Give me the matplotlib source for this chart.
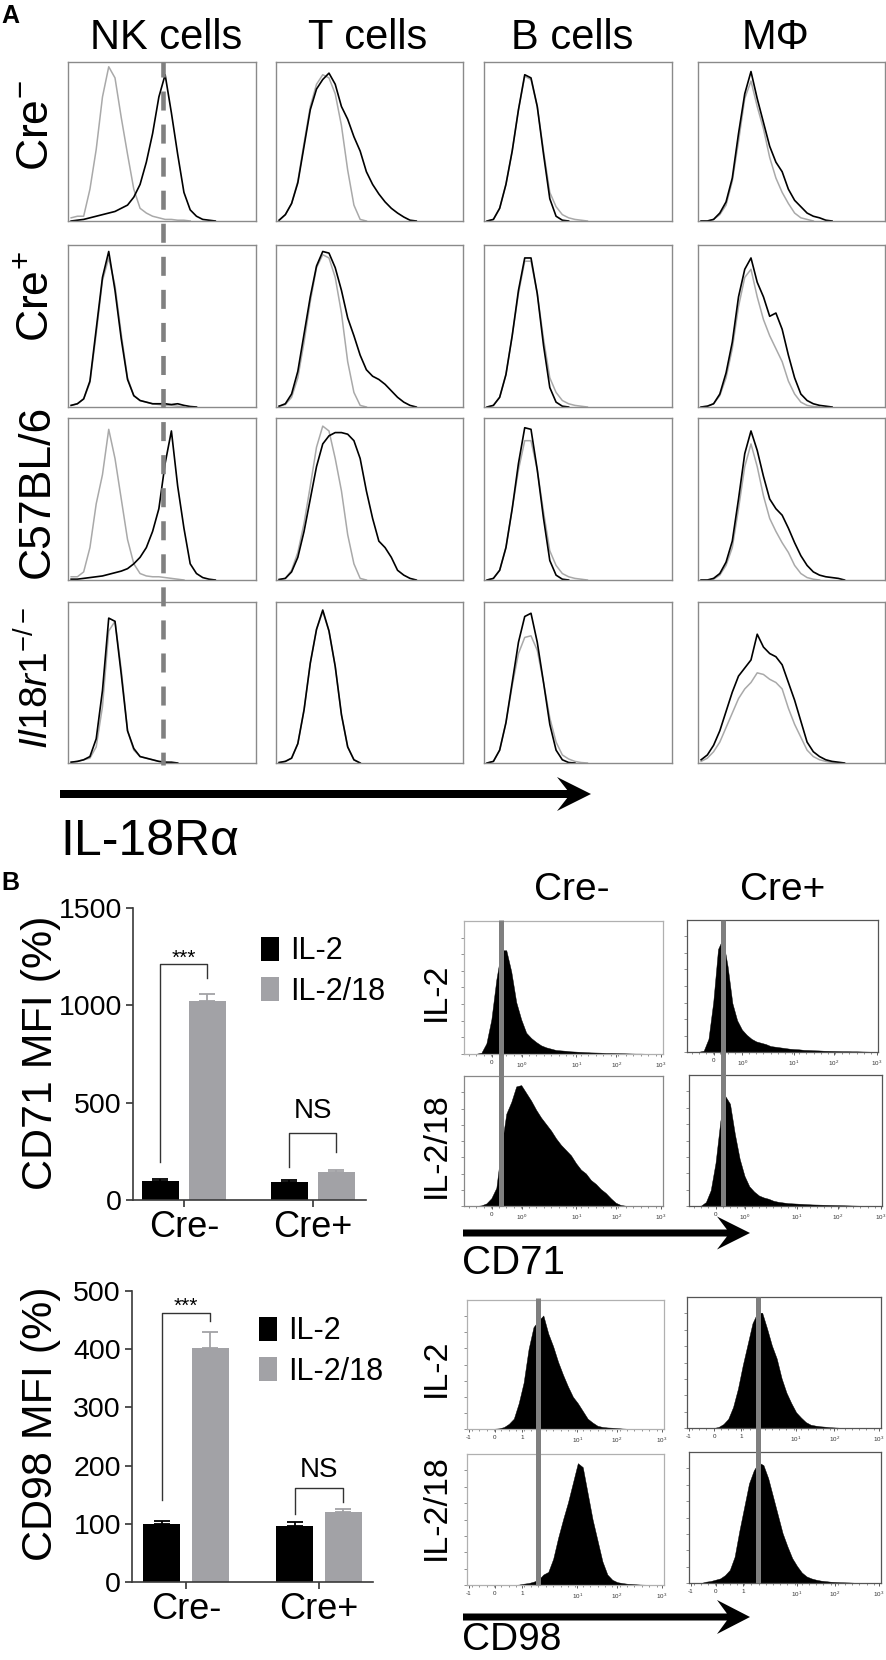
import numpy as np
import matplotlib
matplotlib.use('Agg')
import matplotlib.pyplot as plt
from matplotlib.patches import Polygon
from matplotlib import font_manager

plt.rcParams['font.family'] = ['Liberation Sans', 'DejaVu Sans']
plt.rcParams['mathtext.fontset'] = 'custom'
plt.rcParams['mathtext.rm'] = 'Liberation Sans'
plt.rcParams['mathtext.it'] = 'Liberation Sans:italic'
plt.rcParams['mathtext.bf'] = 'Liberation Sans:bold'
plt.rcParams['lines.scale_dashes'] = False

# ---------------- Panel A data (histogram heights, % of max, per channel bin) ----------------
cell_types = ['NK cells', 'T cells', 'B cells', 'M\u03a6']
genotypes = ['Cre$^{-}$', 'Cre$^{+}$', 'C57BL/6', r'$\mathit{Il18r1}^{\mathit{-/-}}$']

nk_b1 = [0, 0.5, 1, 2, 3, 4, 5, 6, 8, 10, 15, 23, 37, 55, 78, 92, 68, 42, 18, 7, 3, 1, 0.5, 0]
nk_g1 = [2, 3, 3, 20, 45, 78, 97, 90, 65, 42, 20, 8, 5, 3, 2, 1, 1, 0.5, 0.5, 0]
t_b1 = [0.5, 4, 11, 24, 47, 70, 83, 89, 93, 86, 72, 64, 53, 44, 31, 23, 17, 12, 8, 5, 2.5, 0.5, 0]
t_g1 = [0.5, 4, 11, 25, 49, 72, 86, 92, 90, 80, 60, 32, 10, 1, 0]
b_b1 = [0, 1, 8, 23, 44, 70, 92, 90, 72, 42, 14, 3, 0.5, 0]
b_g1 = [0, 1, 8, 23, 44, 70, 91, 89, 72, 44, 18, 9, 4, 2, 1, 0.5, 0]
m_b1 = [0, 0, 1, 5, 12, 27, 55, 80, 94, 77, 62, 47, 37, 31, 20, 13, 9, 5, 3, 2, 0.5, 0]
m_g1 = [0, 0, 1, 4, 10, 25, 50, 77, 88, 72, 58, 40, 27, 18, 11, 5, 2, 1, 0]

nk_b2 = [1, 2, 5, 16, 48, 80, 96, 72, 42, 17, 7, 4, 3, 2, 2, 2, 1.5, 2, 1, 0.3, 0]
nk_g2 = [1, 2, 5, 15, 45, 78, 92, 75, 45, 18, 7, 4, 3, 2, 1.5, 1, 1, 0.5, 0]
t_b2 = [0.5, 2, 8, 22, 45, 68, 87, 96, 95, 86, 72, 55, 44, 32, 23, 19, 17, 14, 10, 6, 3, 1, 0]
t_g2 = [0.5, 1.5, 6, 18, 40, 65, 86, 94, 92, 80, 58, 28, 9, 1, 0]
b_b2 = [0, 1, 6, 20, 44, 72, 92, 92, 70, 38, 12, 3, 0.5, 0]
b_g2 = [0, 1, 6, 20, 44, 70, 90, 90, 70, 42, 18, 9, 4, 2, 1, 0.5, 0]
m_b2 = [0, 0.5, 2, 8, 21, 40, 68, 85, 92, 77, 68, 56, 58, 48, 32, 18, 8, 4, 2, 1, 0.5, 0]
m_g2 = [0, 0.5, 2, 7, 18, 36, 62, 80, 85, 68, 54, 44, 36, 28, 16, 8, 3, 1, 0.3, 0]

nk_b3 = [0.5, 0.5, 1, 1.5, 2, 2.5, 3.5, 4.5, 5.5, 7, 10, 14, 20, 30, 44, 72, 92, 58, 32, 10, 4, 1.5, 0.5, 0]
nk_g3 = [2, 2, 5, 20, 47, 65, 93, 75, 50, 25, 10, 4, 2.5, 2, 2, 1.5, 1, 0.5, 0]
t_b3 = [0.3, 1, 5, 14, 30, 50, 70, 84, 89, 91, 91, 90, 86, 75, 55, 38, 24, 20, 14, 6, 3, 1, 0]
t_g3 = [0.3, 1, 6, 17, 35, 58, 82, 95, 92, 75, 55, 28, 10, 1, 0]
b_b3 = [0, 1, 6, 20, 44, 72, 94, 93, 68, 38, 12, 3, 0.5, 0]
b_g3 = [0, 1, 6, 20, 44, 68, 86, 86, 68, 42, 18, 9, 4, 2, 1, 0.5, 0]
m_b3 = [0, 0, 1, 4, 11, 24, 50, 78, 92, 80, 64, 50, 44, 40, 32, 23, 15, 9, 5, 3, 2, 1.5, 1, 0]
m_g3 = [0, 0, 0.5, 3, 9, 20, 44, 70, 84, 70, 52, 38, 30, 23, 17, 9, 4, 1.5, 0.5, 0]

nk_b4 = [0.5, 1, 2, 4, 15, 45, 90, 88, 55, 20, 9, 4, 3, 2, 1, 0.5, 0.5, 0]
nk_g4 = [0.5, 1, 2, 3, 10, 35, 82, 88, 58, 20, 8, 4, 3, 2, 1, 0.5, 0]
t_b4 = [0.3, 1, 3, 12, 33, 62, 83, 95, 82, 60, 30, 10, 2, 0]
t_g4 = [0.3, 1, 3, 12, 33, 62, 83, 94, 82, 60, 30, 10, 2, 0]
b_b4 = [0, 1, 8, 25, 50, 75, 91, 93, 75, 50, 24, 8, 2, 0.3, 0]
b_g4 = [0, 1, 8, 25, 48, 68, 78, 79, 70, 50, 28, 13, 5, 2.5, 1, 0.3, 0]
m_b4 = [2, 5, 11, 20, 32, 44, 54, 59, 64, 80, 72, 68, 66, 61, 50, 39, 26, 13, 7, 4, 2, 1, 0.5, 0]
m_g4 = [1, 3, 7, 13, 22, 31, 40, 46, 50, 56, 55, 52, 50, 46, 34, 24, 16, 8, 4, 2, 1, 0.3, 0]

# ---------------- Panel B bar data ----------------
groups = ['Cre-', 'Cre+']
treatments = ['IL-2', 'IL-2/18']
cd71_il2 = [100, 94]
cd71_il2_err = [8, 8]
cd71_il218 = [1023, 144]
cd71_il218_err = [36, 10]
cd98_il2 = [100, 97]
cd98_il2_err = [4, 6]
cd98_il218 = [402, 120]
cd98_il218_err = [28, 6]
cd71_sig = ['***', 'NS']
cd98_sig = ['***', 'NS']

# ---------------- Panel B flow histograms (% of max, 40 bins) ----------------
cd71_creneg_il2 = [0, 0, 0.2, 1, 8, 26, 56, 78, 78, 62, 39, 26, 16, 12, 9, 6.5, 5, 4, 3, 2.7, 2.4, 2, 1.8, 1.6, 1.4, 1.2, 1.1, 1, 0.8, 0.8, 0.7, 0.6, 0.5, 0.4, 0.3, 0.3, 0.2, 0.1, 0, 0]
cd71_crepos_il2 = [0, 0, 0.2, 1, 10, 38, 78, 86, 65, 37, 24, 17, 13, 10, 8, 7, 6, 4.5, 4, 3.5, 3, 2.5, 2.2, 2, 1.6, 1.5, 1.3, 1.2, 1, 0.9, 0.8, 0.7, 0.6, 0.6, 0.5, 0.5, 0.4, 0.3, 0.2, 0.1]
cd71_creneg_il218 = [0, 0, 0, 0.5, 2, 6, 14, 45, 71, 80, 92, 93, 87, 81, 74, 68, 63, 58, 52, 47, 43, 39, 33, 28, 25, 20, 17, 13, 10, 6, 2.5, 0.8, 0.2, 0, 0, 0, 0, 0, 0, 0]
cd71_crepos_il218 = [0, 0, 0.3, 3, 12, 33, 65, 84, 78, 55, 36, 23, 15, 11, 8, 6.5, 5.5, 4, 3.2, 2.7, 2.2, 2, 1.8, 1.6, 1.4, 1.2, 1.1, 1, 0.9, 0.8, 0.7, 0.6, 0.5, 0.4, 0.3, 0.2, 0.1, 0, 0, 0]
cd98_creneg_il2 = [0, 0, 0, 0, 0, 0.2, 0.5, 1.5, 4, 8, 20, 36, 62, 79, 84, 88, 74, 64, 52, 42, 33, 25, 20, 14, 8, 5, 2.5, 1.6, 1.2, 1, 0.7, 0.4, 0.2, 0, 0, 0, 0, 0, 0, 0]
cd98_crepos_il2 = [0, 0, 0, 0, 0, 0, 0.8, 3, 7, 16, 30, 48, 64, 80, 88, 88, 76, 63, 53, 38, 27, 19, 12, 8, 4.5, 2.5, 1.8, 1.3, 1, 0.6, 0.4, 0.2, 0, 0, 0, 0, 0, 0, 0, 0]
cd98_creneg_il218 = [0, 0, 0, 0, 0, 0, 0, 0, 0, 0, 0.3, 1, 1.5, 2.5, 4, 8, 10, 20, 36, 50, 63, 78, 93, 90, 70, 50, 34, 18, 8, 4, 2.2, 1.5, 1, 0.8, 0.5, 0.3, 0.2, 0, 0, 0]
cd98_crepos_il218 = [0, 0, 0, 1, 1.5, 2.5, 3.5, 6, 10, 20, 40, 58, 76, 86, 92, 90, 80, 66, 52, 38, 28, 19, 13, 8, 5, 3.5, 2.5, 1.8, 1.4, 1, 0.8, 0.6, 0.5, 0.4, 0.2, 0, 0, 0, 0, 0]

cd71_ticklabels_l = ['0', '10$^0$', '10$^1$', '10$^2$', '10$^3$']
cd71_ticklabels_r = ['0', '10$^0$', '10$^1$', '10$^2$', '10$^3$']
cd98_ticklabels = ['-1', '0', '1', '10$^1$', '10$^2$', '10$^3$']

# ---------------- layout helpers ----------------
W, H = 887, 1660
fig = plt.figure(figsize=(W / 100, H / 100), dpi=100)


def px_axes(x0, y0, x1, y1, **kw):
    return fig.add_axes([x0 / W, 1 - y1 / H, (x1 - x0) / W, (y1 - y0) / H], **kw)


BLACK = '#000000'
LGRAY = '#a9a9a9'
BARGRAY = '#a2a2a6'
FRAME = '#8a8a8a'

# ---------------- Panel A ----------------
rows_px = [(62, 221), (245, 407), (418, 580), (602, 763)]
cols_px = [(68, 256), (276, 463), (484, 672), (698, 885)]
hist_black = [[nk_b1, t_b1, b_b1, m_b1], [nk_b2, t_b2, b_b2, m_b2],
              [nk_b3, t_b3, b_b3, m_b3], [nk_b4, t_b4, b_b4, m_b4]]
hist_gray = [[nk_g1, t_g1, b_g1, m_g1], [nk_g2, t_g2, b_g2, m_g2],
             [nk_g3, t_g3, b_g3, m_g3], [nk_g4, t_g4, b_g4, m_g4]]
NBIN_A = 30
for r, (y0, y1) in enumerate(rows_px):
    for c, (x0, x1) in enumerate(cols_px):
        ax = px_axes(x0, y0, x1, y1)
        g = hist_gray[r][c]
        b = hist_black[r][c]
        ax.plot(np.arange(len(g)) + 0.5, g, color=LGRAY, lw=1.1)
        ax.plot(np.arange(len(b)) + 0.5, b, color=BLACK, lw=1.2)
        ax.set_xlim(0, NBIN_A)
        ax.set_ylim(0, 100)
        ax.set_xticks([])
        ax.set_yticks([])
        for s in ax.spines.values():
            s.set_color(FRAME)
            s.set_linewidth(1.0)

# ---------------- Panel B bar charts ----------------
legends = []


def bar_chart(ax_px, xlim, ylim, yticks, il2, il2e, il218, il218e, sig, brackets, sig_y, legend_px):
    ax = px_axes(*ax_px)
    x = np.arange(len(groups))
    off, w = 0.182, 0.28
    b1 = ax.bar(x - off, il2, width=w, color=BLACK, label=treatments[0], zorder=2)
    b2 = ax.bar(x + off, il218, width=w, color=BARGRAY, label=treatments[1], zorder=2)
    ax.errorbar(x - off, il2, yerr=[np.zeros(len(il2)), il2e], fmt='none', ecolor=BLACK,
                elinewidth=1.3, capsize=6, capthick=1.3, zorder=3)
    ax.errorbar(x + off, il218, yerr=[np.zeros(len(il218)), il218e], fmt='none', ecolor=BARGRAY,
                elinewidth=1.3, capsize=6, capthick=1.3, zorder=1)
    for i, (yl, yr, yt) in enumerate(brackets):
        ax.plot([x[i] - off, x[i] - off, x[i] + off, x[i] + off], [yl, yt, yt, yr],
                color='#333333', lw=1.0, clip_on=False)
        fs = 15 if sig[i] == '***' else 20
        ax.text(x[i], sig_y[i], sig[i], ha='center', va='center', fontsize=fs)
    ax.set_xlim(*xlim)
    ax.set_ylim(*ylim)
    ax.set_yticks(yticks)
    ax.set_xticks(x)
    ax.set_xticklabels(groups)
    ax.tick_params(axis='y', labelsize=20.5, length=5, width=1.2, pad=3, color='#333333')
    ax.tick_params(axis='x', labelsize=26, length=5, width=1.2, pad=2, color='#333333')
    for s in ['top', 'right']:
        ax.spines[s].set_visible(False)
    for s in ['left', 'bottom']:
        ax.spines[s].set_color('#3a3a3a')
        ax.spines[s].set_linewidth(1.2)
    leg = ax.legend(handles=[b1, b2], loc='upper left',
                    bbox_to_anchor=(legend_px[0] / W, 1 - legend_px[1] / H),
                    bbox_transform=fig.transFigure, frameon=False, fontsize=22,
                    handlelength=0.6, handleheight=0.82, handletextpad=0.36,
                    labelspacing=0.33, borderpad=0, borderaxespad=0)
    legends.append((leg, legend_px))
    return ax


# legend_px: target (left, top) of the first legend square, in pixels
bar_chart((133, 908, 366, 1200), (-0.395, 1.411), (0, 1500), [0, 500, 1000, 1500],
          cd71_il2, cd71_il2_err, cd71_il218, cd71_il218_err, cd71_sig,
          [(195, 1141, 1213), (170, 247, 344)], [1239, 457], (261, 937))
bar_chart((132, 1291, 373, 1582), (-0.406, 1.406), (0, 500), [0, 100, 200, 300, 400, 500],
          cd98_il2, cd98_il2_err, cd98_il218, cd98_il218_err, cd98_sig,
          [(141, 448, 462), (117, 138, 161)], [474, 192], (259, 1317))

# ---------------- Panel B flow histograms ----------------
NBIN_B = 40


def flow_axes(ax_px, vals, tick_fr, tick_labels, frame):
    ax = px_axes(*ax_px)
    xx = np.arange(len(vals)) + 0.5
    ax.fill_between(xx, 0, vals, color=BLACK, lw=0.3, edgecolor=BLACK)
    ax.set_xlim(0, NBIN_B)
    ax.set_ylim(0, 100)
    ax.set_xticks([f * NBIN_B for f in tick_fr])
    ax.set_xticklabels(tick_labels)
    ax.set_xticks(np.arange(1, NBIN_B, 1.5), minor=True)
    ax.set_yticks(np.arange(0, 100, 12.5))
    ax.set_yticklabels([])
    ax.tick_params(axis='x', which='major', labelsize=4.5, length=2.5, width=0.6, pad=2,
                   color='#444444', labelcolor='#333333')
    ax.tick_params(axis='x', which='minor', length=1.5, width=0.5, color='#666666')
    ax.tick_params(axis='y', length=2, width=0.5, color='#666666')
    for s in ax.spines.values():
        s.set_color(frame)
        s.set_linewidth(0.9)
    return ax


fr71l = [0.139, 0.29, 0.565, 0.766, 0.99]
fr71r = [0.139, 0.29, 0.56, 0.77, 0.995]
fr98 = [0.01, 0.14, 0.28, 0.56, 0.76, 0.99]
flow_axes((464, 921, 663, 1054), cd71_creneg_il2, fr71l, cd71_ticklabels_l, '#b0b0b0')
flow_axes((687, 920, 878, 1052), cd71_crepos_il2, fr71r, cd71_ticklabels_r, '#555555')
flow_axes((464, 1076, 663, 1206), cd71_creneg_il218, fr71l, cd71_ticklabels_l, '#888888')
flow_axes((689, 1075, 882, 1206), cd71_crepos_il218, fr71r, cd71_ticklabels_r, '#555555')
flow_axes((467, 1300, 664, 1429), cd98_creneg_il2, fr98, cd98_ticklabels, '#b0b0b0')
flow_axes((687, 1297, 881, 1428), cd98_crepos_il2, fr98, cd98_ticklabels, '#555555')
flow_axes((467, 1454, 664, 1585), cd98_creneg_il218, fr98, cd98_ticklabels, '#b0b0b0')
flow_axes((689, 1452, 881, 1583), cd98_crepos_il218, fr98, cd98_ticklabels, '#555555')

# ---------------- overlay: labels, arrows, reference lines ----------------
ov = fig.add_axes([0, 0, 1, 1], zorder=10)
ov.set_xlim(0, W)
ov.set_ylim(H, 0)
ov.axis('off')
ov.patch.set_alpha(0)


def big_arrow(x0, xh, x1, y, ht, hh):
    xn = xh + 0.3 * (x1 - xh)
    pts = [(x0, y - ht), (xn, y - ht), (xh, y - hh), (x1, y), (xh, y + hh), (xn, y + ht), (x0, y + ht)]
    ov.add_patch(Polygon(pts, closed=True, color='black', lw=0))


# Panel A labels
ov.text(1, 4, 'A', fontsize=18, fontweight='bold', ha='left', va='top')
for cx, name in zip([166, 368, 572, 776], cell_types):
    ov.text(cx, 49, name, fontsize=30, ha='center', va='baseline')
for (cy, fs), name in zip([(126, 32), (297, 32), (491, 32), (678, 28)], genotypes):
    ov.text(37, cy, name, fontsize=fs, rotation=90, ha='center', va='center')
ov.plot([163, 163], [62, 765], color='#808080', lw=3.3, linestyle=(2.9, (13.7, 10.1)),
        solid_capstyle='butt', dash_capstyle='butt')
big_arrow(60, 557, 591, 794, 4, 17)

narrow_ok = any('Liberation Sans Narrow' == f.name for f in font_manager.fontManager.ttflist)
if narrow_ok:
    ov.text(60, 855, 'IL-18R\u03b1', fontsize=41, ha='left', va='baseline',
            family=['Liberation Sans Narrow', 'Liberation Sans', 'DejaVu Sans'])
else:
    ov.text(60, 855, 'IL-18R\u03b1', fontsize=36, ha='left', va='baseline')

# Panel B labels
ov.text(1, 871, 'B', fontsize=18, fontweight='bold', ha='left', va='top')
ov.text(41, 1053, 'CD71 MFI (%)', fontsize=31, rotation=90, ha='center', va='center')
ov.text(41, 1424, 'CD98 MFI (%)', fontsize=31, rotation=90, ha='center', va='center')
ov.text(572, 900, groups[0], fontsize=28, ha='center', va='baseline')
ov.text(783, 900, groups[1], fontsize=28, ha='center', va='baseline')
for cy, lab in [(992, 'IL-2'), (1145, 'IL-2/18'), (1368, 'IL-2'), (1507, 'IL-2/18')]:
    ov.text(436, cy, lab, fontsize=24.5, rotation=90, ha='center', va='center')
for x, y0, y1 in [(501, 920, 1206), (723, 920, 1206), (538, 1298, 1585), (758, 1297, 1583)]:
    ov.plot([x, x], [y0, y1], color='#7f7f7f', lw=3.6, solid_capstyle='butt')
big_arrow(463, 717, 750, 1233, 3.5, 16.5)
ov.text(462, 1274, 'CD71', fontsize=29, ha='left', va='baseline')
big_arrow(463, 717, 750, 1617, 3.5, 17)
ov.text(462, 1650, 'CD98', fontsize=28, ha='left', va='baseline')

# place each legend so that its first square lands on the measured spot
fig.canvas.draw()
for leg, (lx, ly) in legends:
    hnd = leg.legend_handles[0]
    bb = hnd.get_window_extent(fig.canvas.get_renderer())
    dx = lx - bb.x0
    dy = (H - ly) - bb.y1
    ax_x, ax_y = 1.0 * (lx) / W, 1 - ly / H
    anchor = leg.get_bbox_to_anchor()
    ax0 = anchor.x0 + dx
    ay1 = anchor.y1 + dy
    leg.set_bbox_to_anchor((ax0 / W, ay1 / H), transform=fig.transFigure)

fig.savefig('out.png', dpi=100)
